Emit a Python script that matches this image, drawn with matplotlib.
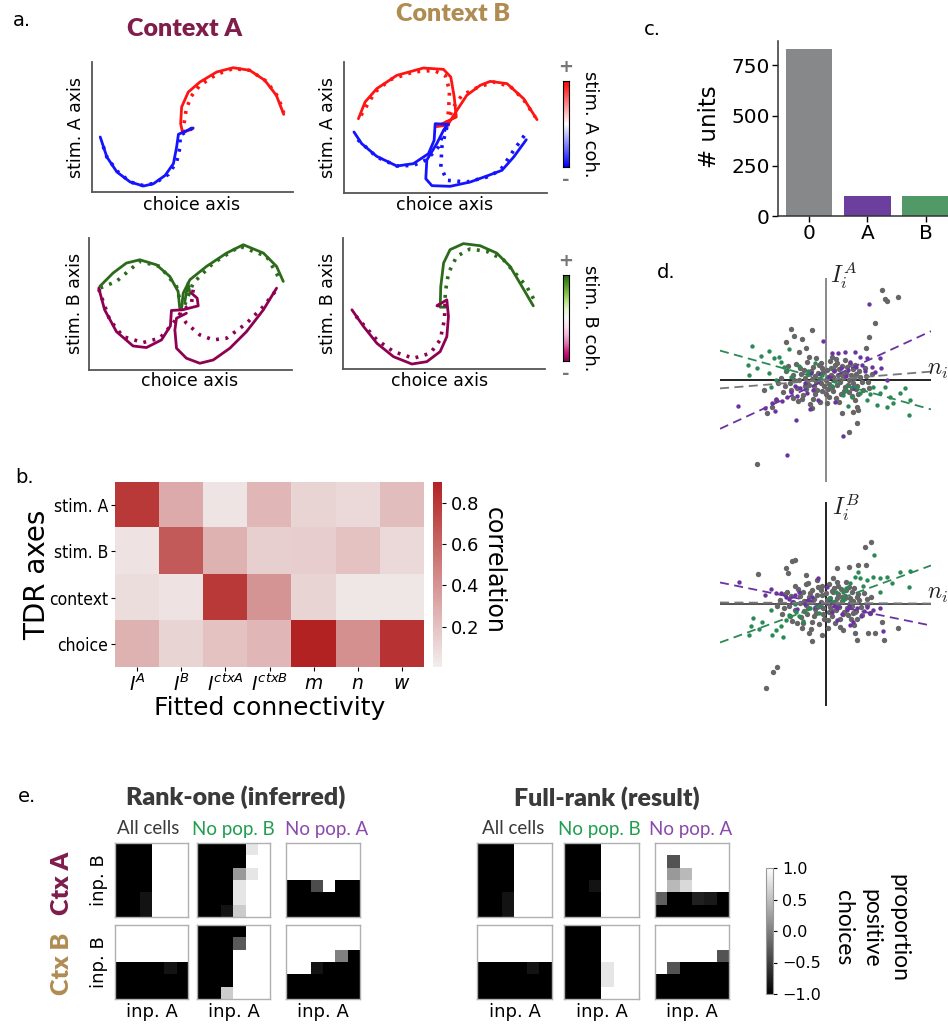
import matplotlib
matplotlib.use('Agg')
import matplotlib.pyplot as plt
import numpy as np
from matplotlib.colors import LinearSegmentedColormap

# ---------------- DATA ----------------
# panel a : trajectories (arbitrary units 0-100). A1: ctx A / stim A axis
A1_red_solid_x = [50.4, 45.1, 44.1, 44.6, 47.9, 53.7, 62.0, 70.2, 78.5, 86.0, 91.7, 95.4]
A1_red_solid_y = [49.2, 45.4, 52.6, 65.4, 76.9, 84.6, 92.3, 95.6, 93.6, 85.9, 74.4, 59.7]
A1_red_dot_x = [49.6, 45.5, 45.8, 46.8, 49.1, 53.7, 62.0, 70.2, 78.5, 86.8, 92.6, 95.4]
A1_red_dot_y = [48.7, 45.6, 52.6, 62.8, 73.1, 82.1, 90.5, 94.9, 93.6, 85.1, 73.1, 60.8]
A1_blue_solid_x = [50.1, 43.0, 42.1, 40.5, 36.4, 30.6, 25.6, 19.0, 12.4, 7.4, 4.1]
A1_blue_solid_y = [49.2, 44.4, 34.6, 21.8, 12.8, 6.4, 4.6, 7.7, 15.4, 26.9, 42.3]
A1_blue_dot_x = [50.1, 43.8, 43.8, 42.1, 38.0, 31.4, 25.6, 19.0, 12.4, 7.4, 4.6]
A1_blue_dot_y = [49.2, 43.6, 34.6, 23.1, 13.6, 6.9, 4.9, 7.7, 16.2, 26.9, 39.7]

# A2: ctx B / stim A axis
A2_red_solid1_x = [51.5, 45.7, 55.3, 54.3, 52.6, 49.0, 39.1, 26.0, 16.1, 10.4, 7.1]
A2_red_solid1_y = [51.7, 50.9, 58.0, 73.3, 88.5, 94.4, 95.4, 89.8, 79.6, 69.5, 56.7]
A2_red_solid2_x = [45.7, 51.5, 55.6, 60.5, 67.1, 72.0, 80.3, 88.5, 95.1]
A2_red_solid2_y = [50.9, 52.9, 63.1, 74.6, 82.2, 85.2, 83.5, 72.0, 56.0]
A2_red_dot1_x = [50.7, 51.5, 52.0, 49.8, 44.1, 34.2, 22.7, 15.3, 7.9]
A2_red_dot1_y = [52.9, 63.1, 78.4, 89.8, 93.6, 92.4, 86.5, 77.1, 58.0]
A2_red_dot2_x = [50.7, 53.9, 58.1, 65.5, 73.7, 81.9, 88.5, 94.2]
A2_red_dot2_y = [52.9, 65.6, 74.6, 80.4, 84.7, 81.4, 71.2, 58.0]
A2_blue_solid1_x = [51.5, 44.9, 44.4, 41.6, 34.2, 26.0, 16.1, 8.7, 4.9]
A2_blue_solid1_y = [52.4, 52.9, 40.2, 30.0, 22.4, 20.6, 28.0, 37.7, 46.6]
A2_blue_solid2_x = [50.7, 49.0, 45.7, 40.8, 40.3, 43.3, 52.3, 62.2, 70.4, 77.8, 83.6, 89.8]
A2_blue_solid2_y = [51.7, 47.8, 37.7, 25.2, 10.9, 5.6, 5.1, 8.4, 13.0, 17.3, 27.5, 40.7]
A2_blue_dot1_x = [49.8, 46.5, 40.8, 34.2, 26.0, 16.1, 5.4]
A2_blue_dot1_y = [49.1, 35.1, 25.4, 21.1, 20.6, 27.5, 42.7]
A2_blue_dot2_x = [50.7, 48.2, 47.7, 50.7, 60.5, 70.4, 77.0, 83.6, 90.1]
A2_blue_dot2_y = [50.4, 35.1, 19.8, 9.7, 8.4, 12.2, 17.3, 32.6, 46.6]

# A3: ctx A / stim B axis
A3_green_solid1_x = [44.7, 43.9, 39.8, 33.2, 25.0, 18.4, 11.8, 5.3]
A3_green_solid1_y = [46.8, 59.5, 70.9, 79.7, 83.5, 81.0, 73.4, 63.3]
A3_green_solid2_x = [45.6, 46.4, 49.7, 57.9, 67.8, 76.0, 85.9, 92.4, 95.7]
A3_green_solid2_y = [46.8, 58.2, 68.4, 78.5, 88.6, 94.9, 88.6, 78.5, 67.1]
A3_green_solid3_x = [47.2, 48.8, 49.7]
A3_green_solid3_y = [51.9, 65.8, 58.2]
A3_green_dot1_x = [45.6, 43.1, 34.9, 25.0, 13.5, 5.3]
A3_green_dot1_y = [48.1, 63.3, 78.5, 82.3, 67.1, 62.0]
A3_green_dot2_x = [47.2, 51.3, 61.2, 74.3, 87.5, 94.1]
A3_green_dot2_y = [49.4, 65.8, 81.0, 93.7, 86.1, 68.4]
A3_mag_solid1_x = [50.5, 53.3, 53.8, 46.1, 40.6, 40.1, 35.7, 28.3, 21.7, 13.5, 7.7, 4.8]
A3_mag_solid1_y = [58.2, 54.4, 48.6, 45.6, 45.1, 33.4, 22.8, 17.0, 18.2, 29.1, 45.6, 62.0]
A3_mag_solid2_x = [48.0, 43.1, 42.3, 43.1, 48.0, 54.6, 61.2, 69.4, 77.6, 85.9, 92.4]
A3_mag_solid2_y = [43.0, 39.2, 30.4, 16.5, 8.9, 5.1, 7.6, 16.5, 29.1, 45.6, 62.0]
A3_mag_dot1_x = [51.3, 50.5, 45.6, 41.4, 34.9, 26.6, 16.8, 10.2, 4.8]
A3_mag_dot1_y = [60.8, 50.6, 44.3, 35.4, 24.1, 20.8, 25.3, 38.0, 61.3]
A3_mag_dot2_x = [44.7, 48.0, 54.6, 61.2, 67.8, 77.6, 85.9, 92.4]
A3_mag_dot2_y = [43.0, 35.4, 26.6, 22.8, 24.1, 35.4, 48.1, 60.8]

# A4: ctx B / stim B axis
A4_green_solid_x = [50.9, 48.1, 48.4, 49.8, 53.0, 59.6, 67.9, 76.1, 82.7, 87.6, 94.2]
A4_green_solid_y = [47.2, 47.2, 63.0, 80.9, 91.1, 95.7, 94.1, 88.5, 78.3, 65.6, 48.2]
A4_green_dot_x = [50.6, 50.6, 52.2, 56.3, 62.9, 71.2, 79.4, 86.0, 90.9, 95.1]
A4_green_dot_y = [47.2, 57.9, 73.2, 86.0, 91.6, 89.8, 83.4, 71.9, 63.0, 51.5]
A4_mag_solid_x = [46.5, 51.4, 52.2, 51.4, 48.1, 41.5, 34.1, 25.0, 16.8, 10.2, 4.4]
A4_mag_solid_y = [48.2, 52.8, 40.1, 24.7, 13.3, 5.6, 3.8, 9.4, 19.6, 32.4, 45.2]
A4_mag_dot_x = [46.5, 50.6, 50.2, 48.1, 43.2, 34.9, 25.0, 16.8, 10.2, 4.4]
A4_mag_dot_y = [48.2, 50.3, 37.5, 22.2, 12.0, 8.2, 13.3, 22.2, 33.7, 43.9]

# panel b : correlation heatmap
tdr_axes = ['stim. A', 'stim. B', 'context', 'choice']
fitted_conn = [r'$I^A$', r'$I^B$', r'$I^{ctxA}$', r'$I^{ctxB}$', r'$m$', r'$n$', r'$w$']
corr_stimA = [0.80, 0.30, 0.05, 0.25, 0.12, 0.10, 0.22]
corr_stimB = [0.06, 0.65, 0.27, 0.14, 0.15, 0.20, 0.10]
corr_context = [0.08, 0.06, 0.80, 0.40, 0.12, 0.04, 0.04]
corr_choice = [0.27, 0.12, 0.20, 0.25, 0.90, 0.42, 0.82]

# panel c : bar chart
pop_labels = ['0', 'A', 'B']
pop_counts = [829, 99, 99]

# panel d : scatter (top: I^A vs n, bottom: I^B vs n)
dA_gray = [(-3.2,0.5),(-2.8,-0.8),(-2.5,1.2),(-2.2,-1.5),(-2.0,0.2),(-1.8,1.8),(-1.6,-0.5),(-1.4,0.9),(-1.2,-1.9),(-1.0,0.4),
           (-0.8,-1.0),(-0.6,1.5),(-0.4,-0.3),(-0.2,0.8),(0.0,-1.4),(0.2,0.3),(0.4,1.9),(0.6,-0.7),(0.8,1.0),(1.0,-1.8),
           (1.2,0.5),(1.4,-0.2),(1.6,1.4),(1.8,-1.1),(2.0,0.7),(2.2,-0.5),(2.4,1.6),(2.6,-1.6),(2.8,0.2),(3.0,-0.9),
           (3.3,0.9),(-3.5,-0.3),(-2.6,0.0),(-1.9,-0.9),(-1.1,-0.6),(-0.5,0.1),(0.3,-0.4),(0.9,0.0),(1.5,0.6),(2.3,0.0),
           (3.6,-0.2),(-2.9,1.6),(-0.9,2.2),(0.6,2.3),(1.9,2.0),(-1.5,-2.4),(0.1,-2.3),(1.3,-2.2),(2.9,-2.0),(-3.9,0.9),
           (4.0,0.4),(-0.3,-1.1),(0.5,1.2),(-1.7,0.6),(1.1,1.7),(2.7,1.1),(-2.3,-1.9),(3.2,-1.4),(-4.2,-1.2),(4.3,-0.8),
           (-4.4,0.2),(-4.0,-0.6),(-3.7,1.4),(-3.4,-1.0),(-3.1,0.0),(-2.7,-2.1),(-2.4,0.6),(-2.1,1.0),(-1.8,-0.2),(-1.6,2.3),
           (-1.3,0.1),(-1.0,-1.4),(-0.7,0.7),(-0.5,-2.2),(-0.3,1.2),(-0.1,-0.6),(0.1,1.0),(0.3,-1.7),(0.5,0.5),(0.7,-1.1),
           (0.9,1.5),(1.1,-0.5),(1.3,1.1),(1.5,-1.4),(1.7,0.2),(1.9,-0.7),(2.1,1.3),(2.3,-1.2),(2.5,0.5),(2.7,-0.3),
           (2.9,1.5),(3.1,-0.6),(3.4,0.3),(3.7,-1.0),(3.9,1.2),(4.2,-0.2),(4.6,0.6),(-4.7,-0.3),(0.0,0.0),(-0.9,-0.2),
           (0.7,0.3),(1.8,0.5),(-2.0,-0.6),(2.6,-0.8),(-0.4,1.7),(1.0,2.1),(-1.2,1.3),(0.2,-0.9),(3.0,0.6),(-3.2,-1.8),
           (5.6,9.0),(5.9,8.1),(6.1,7.9),(7.2,8.3),(4.9,5.7),(4.3,4.3),(4.0,3.2),(-1.3,5.0),(-3.4,5.1),(-3.9,3.8),
           (-3.1,4.4),(-2.3,4.1),(-1.9,3.2),(-2.6,2.8),(3.1,-4.3),(2.3,-5.2),(2.7,-3.2),(1.6,-3.3),(-1.3,-2.8),(-5.8,-3.3),
           (-5.3,-2.7),(-4.9,-2.0),(-6.1,-1.0),(3.1,-2.7),(3.2,-3.0),(-6.8,-8.4)]
dA_purple = [(4.3,7.6),(-0.2,3.9),(0.6,2.7),(1.2,2.7),(1.9,2.8),(2.9,2.8),(3.4,2.3),(4.1,2.2),(4.6,1.3),(5.4,2.2),
             (5.5,1.2),(4.9,0.8),(6.1,0.0),(3.6,1.5),(2.4,1.8),(1.5,1.2),(2.0,0.4),(0.8,0.9),(0.3,0.3),(-0.5,0.6),
             (-1.4,0.7),(-2.0,-0.3),(-1.2,-1.0),(-2.5,-0.8),(-3.0,-0.6),(-2.8,-1.6),(-3.8,-1.7),(-4.3,-2.1),(-4.9,-1.9),(-5.3,-2.3),
             (-5.0,-3.1),(-6.0,-2.8),(-8.7,-2.6),(-2.9,-4.0),(-3.8,-7.5),(1.7,-5.6),(0.9,-2.2),(-1.5,-2.9),(-0.7,-2.0),(2.8,-0.8),
             (3.0,1.3),(3.9,0.9),(2.2,1.0),(-1.8,-1.3),(-3.4,-1.2)]
dA_green = [(-7.3,3.4),(-7.7,1.5),(-7.6,0.5),(-6.4,2.4),(-5.6,2.9),(-5.1,2.2),(-4.6,2.3),(-4.1,1.3),(-3.8,1.0),(-5.6,0.7),
            (-4.9,0.0),(-5.4,-0.7),(-3.4,0.3),(-2.6,1.4),(-1.7,0.9),(-1.0,1.7),(-0.3,0.5),(0.6,-0.6),(1.7,-1.5),(2.6,-1.7),
            (3.4,-1.3),(4.7,-0.7),(5.4,-1.3),(5.9,-0.7),(6.4,-1.7),(7.4,-1.3),(7.9,-0.8),(8.4,-2.0),(8.3,-3.5),(5.1,-2.5),
            (6.1,-2.7),(6.7,-2.3),(4.1,-2.0),(3.0,-0.7),(2.2,-2.6),(-3.6,3.1),(-6.8,1.2),(-4.4,1.8),(4.4,-1.4),(2.0,-1.0)]
dA_slopes = {'purple': 0.465, 'green': -0.28, 'gray': 0.08}

dB_gray = [(-3.4,0.8),(-3.0,-0.6),(-2.7,1.5),(-2.4,-1.3),(-2.1,0.3),(-1.9,2.0),(-1.7,-0.4),(-1.5,1.1),(-1.3,-1.8),(-1.1,0.5),
           (-0.9,-0.9),(-0.7,1.7),(-0.5,-0.2),(-0.3,0.9),(-0.1,-1.5),(0.1,0.4),(0.3,2.0),(0.5,-0.6),(0.7,1.2),(0.9,-1.9),
           (1.1,0.6),(1.3,-0.3),(1.5,1.5),(1.7,-1.0),(1.9,0.8),(2.1,-0.4),(2.3,1.7),(2.5,-1.5),(2.7,0.3),(2.9,-0.8),
           (3.2,1.0),(-3.6,-0.2),(-2.5,0.1),(-1.8,-1.0),(-1.0,-0.5),(-0.4,0.2),(0.4,-0.3),(1.0,0.1),(1.6,0.7),(2.4,0.1),
           (3.5,-0.3),(-3.0,1.8),(-0.8,2.4),(0.7,2.6),(2.0,2.2),(-1.4,-2.5),(0.2,-2.4),(1.4,-2.3),(2.8,-2.1),(-4.0,1.0),
           (4.1,0.5),(-0.2,-1.0),(0.6,1.3),(-1.6,0.7),(1.2,1.8),(2.6,1.2),(-2.2,-1.9),(3.1,-1.5),(-4.3,-1.0),(4.4,-0.9),
           (-4.5,0.4),(-4.1,-0.4),(-3.8,1.2),(-3.5,-1.2),(-3.2,0.2),(-2.8,-1.9),(-2.5,0.8),(-2.2,1.2),(-1.9,-0.1),(-1.7,2.1),
           (-1.4,0.2),(-1.1,-1.2),(-0.8,0.9),(-0.6,-2.0),(-0.4,1.4),(-0.2,-0.4),(0.0,1.1),(0.2,-1.6),(0.4,0.6),(0.6,-1.2),
           (0.8,1.6),(1.0,-0.6),(1.2,1.0),(1.4,-1.5),(1.6,0.3),(1.8,-0.8),(2.0,1.4),(2.2,-1.1),(2.4,0.6),(2.6,-0.2),
           (2.8,1.6),(3.0,-0.7),(3.3,0.4),(3.6,-1.1),(3.8,1.1),(4.1,-0.1),(4.5,0.7),(-4.8,-0.2),(0.1,0.1),(-0.8,-0.3),
           (0.8,0.2),(1.9,0.6),(-2.1,-0.7),(2.7,-0.9),(-0.3,1.8),(1.1,2.2),(-1.3,1.4),(0.3,-0.8),(3.1,0.7),(-3.3,-1.7),
           (3.9,5.7),(4.5,6.2),(2.3,3.7),(3.2,3.9),(4.0,3.9),(1.1,3.6),(-3.3,4.3),(-3.0,4.4),(-6.7,3.0),(-3.9,3.6),
           (-3.7,3.1),(-1.9,2.9),(-4.8,-6.3),(-5.2,-6.8),(-5.9,-8.4),(7.2,-2.4),(5.8,-3.6),(5.6,-1.8),(2.9,-2.9),(3.1,-3.6),
           (-1.6,-2.9),(-2.3,-2.4),(-0.3,-3.1),(4.9,-2.9),(4.2,-2.9),(1.7,-2.6),(-1.3,-3.7)]
dB_purple = [(-8.6,2.2),(-6.0,0.9),(-4.9,1.1),(-4.4,1.1),(-3.9,0.7),(-3.6,0.5),(-3.3,0.2),(-2.6,1.2),(-1.3,0.7),(-0.7,2.6),
             (0.1,1.7),(0.6,-0.8),(1.1,-0.4),(2.1,-0.6),(3.1,-0.4),(4.1,-0.3),(4.4,-0.9),(4.7,-0.6),(5.4,-0.4),(5.7,-2.7),
             (2.7,-1.8),(2.4,-2.1),(1.1,-1.6),(-2.0,0.0),(-1.0,-0.3),(0.4,0.3),(-2.8,-0.5),(3.5,-1.2),(-5.4,1.5),(1.6,-1.0),
             (-3.0,0.9),(-1.7,0.4),(2.3,-0.2),(3.8,-0.7),(0.8,-0.2)]
dB_green = [(-7.4,-2.2),(-7.2,-1.4),(-7.6,-3.1),(-6.3,-1.8),(-5.4,-0.6),(-5.3,-3.1),(-4.9,-2.6),(-4.4,-2.2),(-3.9,-1.6),(-3.6,-1.1),
            (-2.9,-0.8),(-2.2,-1.7),(-1.5,-0.4),(-0.6,-0.9),(0.3,0.6),(1.0,1.2),(1.7,0.4),(2.9,2.7),(3.4,2.6),(4.1,2.4),
            (4.7,2.7),(5.4,2.6),(6.1,2.7),(7.4,3.2),(8.4,3.3),(8.3,1.7),(4.8,4.9),(5.4,1.2),(3.2,3.2),(2.4,2.1),
            (1.7,1.2),(-6.6,-2.5),(-4.2,-3.3),(6.6,2.1),(-3.0,0.0),(2.0,1.6),(3.7,1.8),(-2.6,-1.2)]
dB_slopes = {'purple': -0.205, 'green': 0.367, 'gray': -0.005}
dB_gray_offset = 0.1

# panel e : proportion positive choices (rows: inp. B high -> low, cols: inp. A low -> high)
r1_ctxA_all = [[-1,-1,-1,1,1,1],[-1,-1,-1,1,1,1],[-1,-1,-1,1,1,1],[-1,-1,-1,1,1,1],[-1,-1,-0.85,1,1,1],[-1,-1,-0.85,1,1,1]]
r1_ctxA_noB = [[-1,-1,-1,-1,0.8,1],[-1,-1,-1,-1,1,1],[-1,-1,-1,0.2,0.8,1],[-1,-1,-1,0.8,1,1],[-1,-1,-1,0.8,1,1],[-1,-1,-0.85,0.6,1,1]]
r1_ctxA_noA = [[1,1,1,1,1,1],[1,1,1,1,1,1],[1,1,1,1,1,1],[-1,-1,-0.4,1,-1,-1],[-1,-1,-1,-1,-1,-1],[-1,-1,-1,-1,-1,-1]]
r1_ctxB_all = [[1,1,1,1,1,1],[1,1,1,1,1,1],[1,1,1,1,1,1],[-1,-1,-1,-1,-0.85,-1],[-1,-1,-1,-1,-1,-1],[-1,-1,-1,-1,-1,-1]]
r1_ctxB_noB = [[-1,-1,-1,-1,1,1],[-1,-1,-1,-0.3,1,1],[-1,-1,-1,1,1,1],[-1,-1,-1,1,1,1],[-1,-1,-1,1,1,1],[-1,-1,0.6,1,1,1]]
r1_ctxB_noA = [[1,1,1,1,1,1],[1,1,1,1,1,1],[1,1,1,1,0.0,-1],[1,1,-0.85,-1,-1,-1],[-1,-1,-1,-1,-1,-1],[-1,-1,-1,-1,-1,-1]]
fr_ctxA_all = [[-1,-1,-1,1,1,1],[-1,-1,-1,1,1,1],[-1,-1,-1,1,1,1],[-1,-1,-1,1,1,1],[-1,-1,-0.85,1,1,1],[-1,-1,-0.85,1,1,1]]
fr_ctxA_noB = [[-1,-1,-1,1,1,1],[-1,-1,-1,1,1,1],[-1,-1,-1,1,1,1],[-1,-1,-0.85,1,1,1],[-1,-1,-1,1,1,1],[-1,-1,-1,1,1,1]]
fr_ctxA_noA = [[1,1,1,1,1,1],[1,-0.35,1,1,1,1],[1,0.2,0.45,1,1,1],[1,0.45,0.7,1,1,1],[-0.25,-1,-1,-0.75,-0.8,-1],[-1,-1,-1,-1,-1,-1]]
fr_ctxB_all = [[1,1,1,1,1,1],[1,1,1,1,1,1],[1,1,1,1,1,1],[-1,-1,-1,-1,-0.85,-1],[-1,-1,-1,-1,-1,-1],[-1,-1,-1,-1,-1,-1]]
fr_ctxB_noB = [[-1,-1,-1,1,1,1],[-1,-1,-1,1,1,1],[-1,-1,-1,1,1,1],[-1,-1,-1,0.8,1,1],[-1,-1,-1,0.8,1,1],[-1,-1,-1,1,1,1]]
fr_ctxB_noA = [[1,1,1,1,1,1],[1,1,1,1,1,1],[1,1,1,1,1,-0.35],[1,-0.35,-1,-1,-1,-1],[-1,-1,-1,-1,-1,-1],[-1,-1,-1,-1,-1,-1]]
col_headers = ['All cells', 'No pop. B', 'No pop. A']

# ---------------- STYLE / LAYOUT ----------------
W, H = 948, 1026
fig = plt.figure(figsize=(W/100, H/100), dpi=100)

def box(x0, y0, x1, y1):
    return fig.add_axes([x0/W, 1-y1/H, (x1-x0)/W, (y1-y0)/H])

def ftext(x, y, s, **kw):
    return fig.text(x/W, 1-y/H, s, **kw)

RED, BLUE = '#ff1414', '#1414ff'
GREEN, MAG = '#2b6b1b', '#8e0152'
CTXA_C, CTXB_C = '#7f1d4b', '#b08c52'
GRAY_P, PURP, GRN_P = '#666666', '#6a33a0', '#2a8a55'
TITLE_FONT = 'Lato'

def traj_axes(b):
    ax = box(*b)
    ax.set_xlim(0, 100); ax.set_ylim(0, 100)
    ax.set_xticks([]); ax.set_yticks([])
    for s in ['top', 'right']:
        ax.spines[s].set_visible(False)
    for s in ['left', 'bottom']:
        ax.spines[s].set_color('#555555'); ax.spines[s].set_linewidth(1.3)
    return ax

def solid(ax, x, y, c):
    ax.plot(x, y, color=c, lw=2.0, solid_capstyle='round', solid_joinstyle='round')

def dotted(ax, x, y, c):
    ax.plot(x, y, color=c, lw=2.6, ls=(0, (0.8, 1.8)), dash_capstyle='butt')

# ---- panel a ----
a1 = traj_axes((92, 62, 293, 192))
solid(a1, A1_red_solid_x, A1_red_solid_y, RED); dotted(a1, A1_red_dot_x, A1_red_dot_y, RED)
solid(a1, A1_blue_solid_x, A1_blue_solid_y, BLUE); dotted(a1, A1_blue_dot_x, A1_blue_dot_y, BLUE)

a2 = traj_axes((344, 62, 547, 193))
solid(a2, A2_red_solid1_x, A2_red_solid1_y, RED); solid(a2, A2_red_solid2_x, A2_red_solid2_y, RED)
dotted(a2, A2_red_dot1_x, A2_red_dot1_y, RED); dotted(a2, A2_red_dot2_x, A2_red_dot2_y, RED)
solid(a2, A2_blue_solid1_x, A2_blue_solid1_y, BLUE); solid(a2, A2_blue_solid2_x, A2_blue_solid2_y, BLUE)
dotted(a2, A2_blue_dot1_x, A2_blue_dot1_y, BLUE); dotted(a2, A2_blue_dot2_x, A2_blue_dot2_y, BLUE)

a3 = traj_axes((89, 238, 292, 370))
solid(a3, A3_green_solid1_x, A3_green_solid1_y, GREEN); solid(a3, A3_green_solid2_x, A3_green_solid2_y, GREEN)
solid(a3, A3_green_solid3_x, A3_green_solid3_y, GREEN)
dotted(a3, A3_green_dot1_x, A3_green_dot1_y, GREEN); dotted(a3, A3_green_dot2_x, A3_green_dot2_y, GREEN)
solid(a3, A3_mag_solid1_x, A3_mag_solid1_y, MAG); solid(a3, A3_mag_solid2_x, A3_mag_solid2_y, MAG)
dotted(a3, A3_mag_dot1_x, A3_mag_dot1_y, MAG); dotted(a3, A3_mag_dot2_x, A3_mag_dot2_y, MAG)

a4 = traj_axes((343, 238, 545, 369))
solid(a4, A4_green_solid_x, A4_green_solid_y, GREEN); dotted(a4, A4_green_dot_x, A4_green_dot_y, GREEN)
solid(a4, A4_mag_solid_x, A4_mag_solid_y, MAG); dotted(a4, A4_mag_dot_x, A4_mag_dot_y, MAG)

for (cx, cy) in [(192, 205), (445, 205), (190, 381), (440, 381)]:
    ftext(cx, cy, 'choice axis', ha='center', va='center', fontsize=12.5)
ftext(76, 127, 'stim. A axis', ha='center', va='center', rotation=90, fontsize=12.5)
ftext(328, 127, 'stim. A axis', ha='center', va='center', rotation=90, fontsize=12.5)
ftext(75, 303, 'stim. B axis', ha='center', va='center', rotation=90, fontsize=12.5)
ftext(328, 303, 'stim. B axis', ha='center', va='center', rotation=90, fontsize=12.5)

ftext(185, 29, 'Context A', ha='center', va='center', fontsize=18, fontweight='heavy',
      color=CTXA_C, family=TITLE_FONT)
ftext(453, 14, 'Context B', ha='center', va='center', fontsize=18, fontweight='heavy',
      color=CTXB_C, family=TITLE_FONT)

# coherence colorbars
grad = np.linspace(1, -1, 128)[:, None]
for (y0, y1, cmap, lab) in [(81, 167, 'bwr', 'stim. A coh.'), (275, 361, 'PiYG', 'stim. B coh.')]:
    cb = box(563, y0, 569, y1)
    cb.imshow(grad, cmap=cmap, aspect='auto', vmin=-1, vmax=1)
    cb.set_xticks([]); cb.set_yticks([])
    for s in cb.spines.values():
        s.set_linewidth(0.8)
    ftext(566, y0 - 14, '+', ha='center', va='center', fontsize=13, color='#777777', fontweight='bold')
    ftext(566, y1 + 13, '-', ha='center', va='center', fontsize=13, color='#777777', fontweight='bold')
    ftext(590, (y0 + y1) / 2, lab, ha='center', va='center', rotation=270, fontsize=13)

ftext(22, 20, 'a.', ha='center', va='center', fontsize=14)

# ---- panel b ----
corr = np.array([corr_stimA, corr_stimB, corr_context, corr_choice])
cmap_b = LinearSegmentedColormap.from_list('redcorr', ['#f2eeee', '#b22222'])
axb = box(115, 482, 424, 667)
imb = axb.imshow(corr, cmap=cmap_b, vmin=0.005, vmax=0.9, aspect='auto')
for s in axb.spines.values():
    s.set_visible(False)
axb.set_yticks(range(len(tdr_axes)))
axb.set_yticklabels(tdr_axes, fontsize=12.5, fontstretch='condensed')
axb.set_xticks(range(len(fitted_conn)))
axb.set_xticklabels(fitted_conn, fontsize=13.5)
axb.tick_params(length=3, width=0.8, pad=2)
caxb = box(433, 482, 442, 667)
cbb = fig.colorbar(imb, cax=caxb, ticks=[0.2, 0.4, 0.6, 0.8])
cbb.outline.set_visible(False)
cbb.ax.tick_params(labelsize=13, length=3)
ftext(494, 570, 'correlation', ha='center', va='center', rotation=270, fontsize=17)
ftext(37, 575, 'TDR axes', ha='center', va='center', rotation=90, fontsize=20)
ftext(270, 708, 'Fitted connectivity', ha='center', va='center', fontsize=18)
ftext(25, 478, 'b.', ha='center', va='center', fontsize=14)

# ---- panel c ----
axc = box(778, 41, 948, 216)
axc.bar(range(len(pop_labels)), pop_counts, width=0.8, color=['#87888a', '#6c3f9e', '#519966'])
axc.set_xlim(-0.53, 2.38)
axc.set_ylim(0, 871)
axc.set_yticks([0, 250, 500, 750])
axc.set_xticks(range(len(pop_labels)))
axc.set_xticklabels(pop_labels)
axc.tick_params(labelsize=14.5, length=4, width=1, pad=2)
for s in ['top', 'right']:
    axc.spines[s].set_visible(False)
for s in ['left', 'bottom']:
    axc.spines[s].set_linewidth(1.1); axc.spines[s].set_color('#333333')
ftext(710, 127, '# units', ha='center', va='center', rotation=90, fontsize=16.5)
ftext(652, 30, 'c.', ha='center', va='center', fontsize=14)

# ---- panel d ----
def scatter_panel(b, gray, purple, green, slopes, gray_off, vcol, hcol, ylab, lab_xy, n_xy):
    ax = box(*b)
    ax.set_xlim(-10.5, 10.5); ax.set_ylim(-10.2, 10.2)
    ax.axis('off')
    ax.plot([0, 0], [-10.2, 10.2], color=vcol, lw=1.3, zorder=1)
    ax.plot([-10.5, 10.5], [0, 0], color=hcol, lw=1.3, zorder=1)
    for pts, c, sz in [(gray, GRAY_P, 15), (purple, PURP, 10), (green, GRN_P, 10)]:
        arr = np.array(pts)
        ax.scatter(arr[:, 0], arr[:, 1], s=sz, color=c, lw=0, zorder=2)
    xs = np.array([-10.5, 10.5])
    ax.plot(xs, slopes['purple'] * xs, color=PURP, ls=(0, (5, 3)), lw=1.3, zorder=3)
    ax.plot(xs, slopes['green'] * xs, color=GRN_P, ls=(0, (5, 3)), lw=1.3, zorder=3)
    ax.plot(xs, slopes['gray'] * xs + gray_off, color='#777777', ls=(0, (5, 3)), lw=1.3, zorder=3)
    ftext(lab_xy[0], lab_xy[1], ylab, ha='left', va='center', fontsize=17,
          math_fontfamily='cm', color='#222222')
    ftext(n_xy[0], n_xy[1], r'$n_i$', ha='left', va='center', fontsize=17, math_fontfamily='cm',
          color='#222222')
    return ax

scatter_panel((720, 278, 931, 482), dA_gray, dA_purple, dA_green, dA_slopes, 0.0,
              '#808080', '#111111', r'$I_i^A$', (830, 275), (927, 369))
scatter_panel((720, 502, 931, 706), dB_gray, dB_purple, dB_green, dB_slopes, dB_gray_offset,
              '#111111', '#444444', r'$I_i^B$', (832, 508), (927, 593))
ftext(666, 272, 'd.', ha='center', va='center', fontsize=14)

# ---- panel e ----
ftext(27, 797, 'e.', ha='center', va='center', fontsize=14)
ftext(236, 797, 'Rank-one (inferred)', ha='center', va='center', fontsize=18, fontweight='heavy',
      color='#3a3a3a', family=TITLE_FONT)
ftext(607, 798, 'Full-rank (result)', ha='center', va='center', fontsize=18, fontweight='heavy',
      color='#3a3a3a', family=TITLE_FONT)

header_colors = ['#3a3a3a', '#1e9e4e', '#8b49ab']
r1_cols = [(115, 188), (197, 270), (286, 360)]
fr_cols = [(477, 552), (564, 639), (655, 729)]
rows_y = [(843, 917), (925, 999)]
r1_mats = [[r1_ctxA_all, r1_ctxA_noB, r1_ctxA_noA], [r1_ctxB_all, r1_ctxB_noB, r1_ctxB_noA]]
fr_mats = [[fr_ctxA_all, fr_ctxA_noB, fr_ctxA_noA], [fr_ctxB_all, fr_ctxB_noB, fr_ctxB_noA]]
im_e = None
for cols, mats, hx in [(r1_cols, r1_mats, [148, 233, 327]), (fr_cols, fr_mats, [513, 599, 691])]:
    for j, (x0, x1) in enumerate(cols):
        ftext(hx[j], 829, col_headers[j], ha='center', va='center', fontsize=13.5, color=header_colors[j],
              family=TITLE_FONT)
        ftext((x0 + x1) / 2, 1012, 'inp. A', ha='center', va='center', fontsize=13)
        for i, (y0, y1) in enumerate(rows_y):
            ax = box(x0, y0, x1, y1)
            im_e = ax.imshow(np.array(mats[i][j]), cmap='gray', vmin=-1, vmax=1, aspect='auto',
                             interpolation='nearest')
            ax.set_xticks([]); ax.set_yticks([])
            for s in ax.spines.values():
                s.set_color('#b0b0b0'); s.set_linewidth(1.0)

ftext(62, 883, 'Ctx A', ha='center', va='center', rotation=90, fontsize=18, fontweight='heavy',
      color=CTXA_C, family=TITLE_FONT)
ftext(62, 964, 'Ctx B', ha='center', va='center', rotation=90, fontsize=18, fontweight='heavy',
      color=CTXB_C, family=TITLE_FONT)
ftext(99, 880, 'inp. B', ha='center', va='center', rotation=90, fontsize=13)
ftext(99, 962, 'inp. B', ha='center', va='center', rotation=90, fontsize=13)

caxe = box(766, 868, 773, 994)
cbe = fig.colorbar(im_e, cax=caxe, ticks=[-1.0, -0.5, 0.0, 0.5, 1.0])
cbe.ax.set_yticklabels(['\u22121.0', '\u22120.5', '0.0', '0.5', '1.0'])
cbe.outline.set_edgecolor('#999999')
cbe.ax.tick_params(labelsize=11.5, length=3)
ftext(871, 928, 'proportion\npositive\nchoices', ha='center', va='center', rotation=270,
      fontsize=16.5, multialignment='center', family=TITLE_FONT, linespacing=1.4)

fig.savefig('out.png', dpi=100)
